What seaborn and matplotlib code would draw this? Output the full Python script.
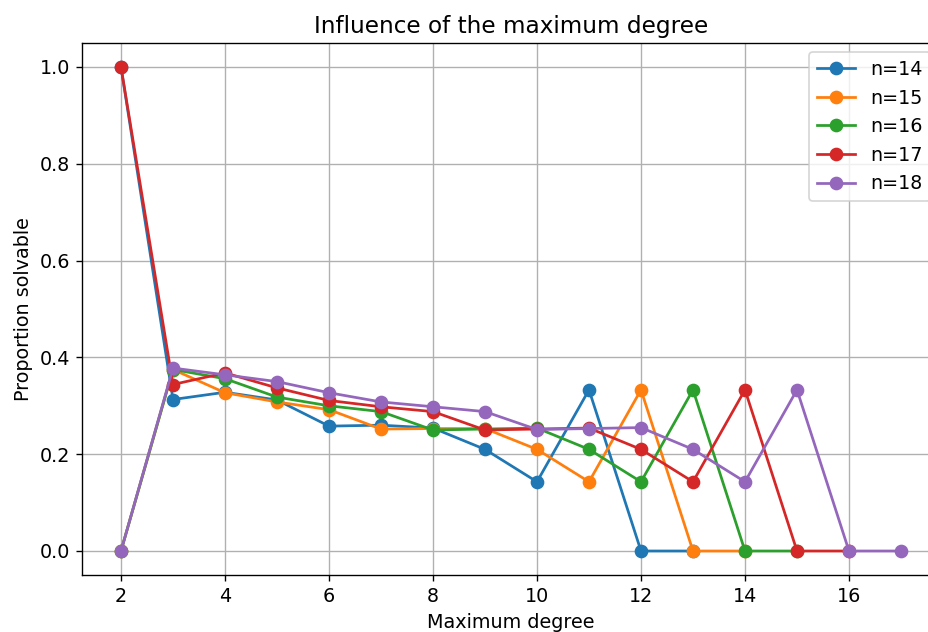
import numpy as np
import pandas as pd
import seaborn as sns
import matplotlib
matplotlib.use("Agg")
import matplotlib.pyplot as plt

# proportion solvable for each graph size n, x = maximum degree from 2 to n-1
n_values = [14, 15, 16, 17, 18]
prop_n14 = [1.0, 0.313, 0.328, 0.312, 0.258, 0.26, 0.254, 0.21, 0.143, 0.333, 0.0, 0.0]
prop_n15 = [0.0, 0.375, 0.327, 0.308, 0.292, 0.252, 0.253, 0.253, 0.21, 0.143, 0.333, 0.0, 0.0]
prop_n16 = [0.0, 0.375, 0.356, 0.318, 0.30, 0.288, 0.25, 0.252, 0.254, 0.21, 0.143, 0.333, 0.0, 0.0]
prop_n17 = [1.0, 0.344, 0.368, 0.337, 0.311, 0.298, 0.288, 0.25, 0.252, 0.254, 0.21, 0.143, 0.333, 0.0, 0.0]
prop_n18 = [0.0, 0.378, 0.364, 0.35, 0.327, 0.308, 0.298, 0.288, 0.251, 0.253, 0.255, 0.21, 0.143, 0.333, 0.0, 0.0]
all_props = [prop_n14, prop_n15, prop_n16, prop_n17, prop_n18]

rows = []
for n, props in zip(n_values, all_props):
    for deg, p in zip(range(2, n), props):
        rows.append({'degree': deg, 'prop': p, 'label': f'n={n}'})
df = pd.DataFrame(rows)

plt.rcParams['font.size'] = 11.2

dpi = 123
fig = plt.figure(figsize=(928 / dpi, 632 / dpi), dpi=dpi)
# axes run past the right edge, like the cropped original
ax = fig.add_axes([82 / 928, 1 - 575.2 / 632, (940 - 82) / 928, (575.2 - 42.8) / 632])

sns.lineplot(data=df, x='degree', y='prop', hue='label', marker='o',
             markersize=7, markeredgecolor='auto', markeredgewidth=1,
             linewidth=1.6, palette='tab10', ax=ax)

ax.set_title('Influence of the maximum degree', fontsize=13.5)
ax.set_xlabel('Maximum degree')
ax.set_ylabel('Proportion solvable')
ax.grid(True)
sns.move_legend(ax, 'upper right', title=None)

fig.savefig('out.png', dpi=dpi)
